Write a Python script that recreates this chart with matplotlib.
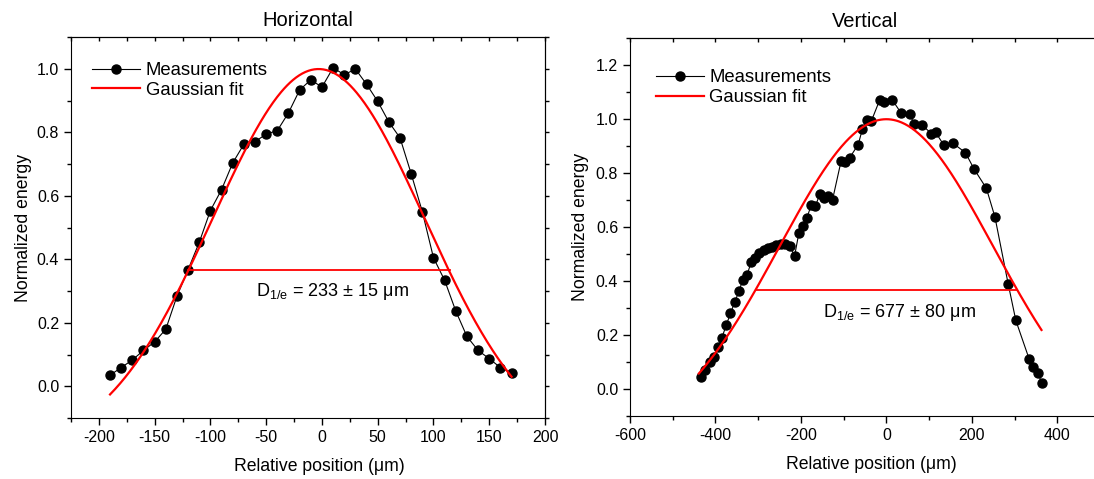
import numpy as np
import matplotlib
matplotlib.use("Agg")
import matplotlib.pyplot as plt
from matplotlib.ticker import MultipleLocator, FormatStrFormatter

plt.rcParams['font.family'] = ['Liberation Sans', 'DejaVu Sans']
plt.rcParams['mathtext.default'] = 'regular'
plt.rcParams['axes.unicode_minus'] = False

# Horizontal scan (measured points)
h_pos = [-190, -180, -170, -160, -150, -140, -130, -120, -110, -100,
         -90, -80, -70, -60, -50, -40, -30, -20, -10, 0,
         10, 20, 30, 40, 50, 60, 70, 80, 90, 100,
         110, 120, 130, 140, 150, 160, 170]
h_energy = [0.035, 0.059, 0.083, 0.113, 0.140, 0.180, 0.284, 0.368, 0.454, 0.554,
            0.620, 0.704, 0.763, 0.771, 0.795, 0.806, 0.862, 0.934, 0.966, 0.943,
            1.004, 0.982, 1.000, 0.952, 0.898, 0.833, 0.783, 0.670, 0.550, 0.405,
            0.334, 0.237, 0.157, 0.113, 0.087, 0.059, 0.042]

# Vertical scan (measured points)
v_pos = [-435, -425, -414, -404, -394, -385, -375, -365, -355, -345,
         -336, -326, -316, -307, -297, -287, -277, -267, -258, -247,
         -237, -226, -215, -205, -195, -186, -176, -166, -156, -146,
         -136, -126, -106, -96, -86, -66, -56, -46, -35, -16,
         -6, 14, 34, 55, 64, 84, 105, 115, 134, 155,
         185, 205, 234, 254, 285, 303, 334, 344, 354, 364]
v_energy = [0.045, 0.069, 0.100, 0.119, 0.156, 0.190, 0.236, 0.280, 0.322, 0.363,
            0.405, 0.424, 0.472, 0.485, 0.505, 0.514, 0.522, 0.527, 0.533, 0.538,
            0.537, 0.530, 0.492, 0.577, 0.605, 0.635, 0.681, 0.678, 0.722, 0.709,
            0.716, 0.702, 0.845, 0.840, 0.857, 0.906, 0.964, 0.996, 0.994, 1.070,
            1.063, 1.071, 1.024, 1.021, 0.984, 0.978, 0.947, 0.952, 0.905, 0.912,
            0.876, 0.816, 0.744, 0.638, 0.390, 0.254, 0.112, 0.080, 0.060, 0.023]

# Gaussian fit parameters: offset, amplitude, centre, sigma, fitted range
h_fit = {"y0": -0.2, "A": 1.2, "xc": -3.0, "s": 95.2, "range": (-190, 170)}
v_fit = {"y0": -0.2, "A": 1.2, "xc": 0.0, "s": 250.2, "range": (-439, 363)}

# 1/e diameter markers
h_d_line = [-120, 115]
v_d_line = [-305, 306]
d_level = 0.368
h_text = "D$_{1/e}$ = 233 ± 15 μm"
v_text = "D$_{1/e}$ = 677 ± 80 μm"


def gauss(x, p):
    return p["y0"] + p["A"] * np.exp(-(x - p["xc"]) ** 2 / (2 * p["s"] ** 2))


fig = plt.figure(figsize=(10.94, 4.79), dpi=100)
ax1 = fig.add_axes([0.0649, 0.1273, 0.4333, 0.7948])
ax2 = fig.add_axes([0.5759, 0.1315, 0.4296, 0.7886])

panels = [
    (ax1, h_pos, h_energy, h_fit, h_d_line, h_text, "Horizontal",
     (-225, 200), (-0.1, 1.1), 50, 25, (-59, 0.30), (0.0443, 0.935), 0.525, -0.082),
    (ax2, v_pos, v_energy, v_fit, v_d_line, v_text, "Vertical",
     (-600, 500), (-0.1, 1.3), 200, 100, (-149, 0.283), (0.0547, 0.918), 0.513, -0.088),
]

for (ax, xs, ys, fit, dline, dtext, title, xlim, ylim,
     xmaj, xmin, tpos, legpos, xlab_x, ylab_x) in panels:
    ax.plot(xs, ys, color='black', lw=0.8, marker='o', markersize=6.5,
            label="Measurements")
    xf = np.linspace(fit["range"][0], fit["range"][1], 400)
    ax.plot(xf, gauss(xf, fit), color='red', lw=1.6, label="Gaussian fit")
    ax.plot(dline, [d_level, d_level], color='red', lw=1.3)
    ax.text(tpos[0], tpos[1], dtext, fontsize=13, va='center', ha='left')

    ax.set_xlim(*xlim)
    ax.set_ylim(*ylim)
    ax.xaxis.set_major_locator(MultipleLocator(xmaj))
    ax.xaxis.set_minor_locator(MultipleLocator(xmin))
    ax.set_yticks(np.arange(0, ylim[1] - 0.05, 0.2))
    ax.yaxis.set_minor_locator(MultipleLocator(0.1))
    ax.yaxis.set_major_formatter(FormatStrFormatter('%.1f'))
    ax.tick_params(axis='both', which='major', direction='out', length=5,
                   width=1, labelsize=11.5)
    ax.tick_params(axis='both', which='minor', direction='out', length=3,
                   width=1)

    # top axis: inward ticks, no labels
    top = ax.secondary_xaxis('top')
    top.xaxis.set_major_locator(MultipleLocator(xmaj))
    top.xaxis.set_minor_locator(MultipleLocator(xmin))
    top.tick_params(which='both', direction='in', length=3, width=1,
                    labeltop=False)
    # right axis: short outward ticks, no labels
    right = ax.secondary_yaxis('right')
    right.yaxis.set_major_locator(MultipleLocator(0.2))
    right.yaxis.set_minor_locator(MultipleLocator(0.1))
    right.tick_params(which='both', direction='out', length=3, width=1,
                      labelright=False)

    ax.set_title(title, fontsize=14.5, pad=8)
    ax.set_xlabel("Relative position (μm)", fontsize=12.7)
    ax.set_ylabel("Normalized energy", fontsize=12.7)
    ax.xaxis.set_label_coords(xlab_x, -0.105)
    ax.yaxis.set_label_coords(ylab_x, 0.5)

    ax.legend(loc='upper left', bbox_to_anchor=legpos, frameon=False,
              fontsize=13.3, handlelength=2.6, handletextpad=0.3,
              labelspacing=0.15, borderpad=0, borderaxespad=0)

fig.savefig("out.png", dpi=100)
